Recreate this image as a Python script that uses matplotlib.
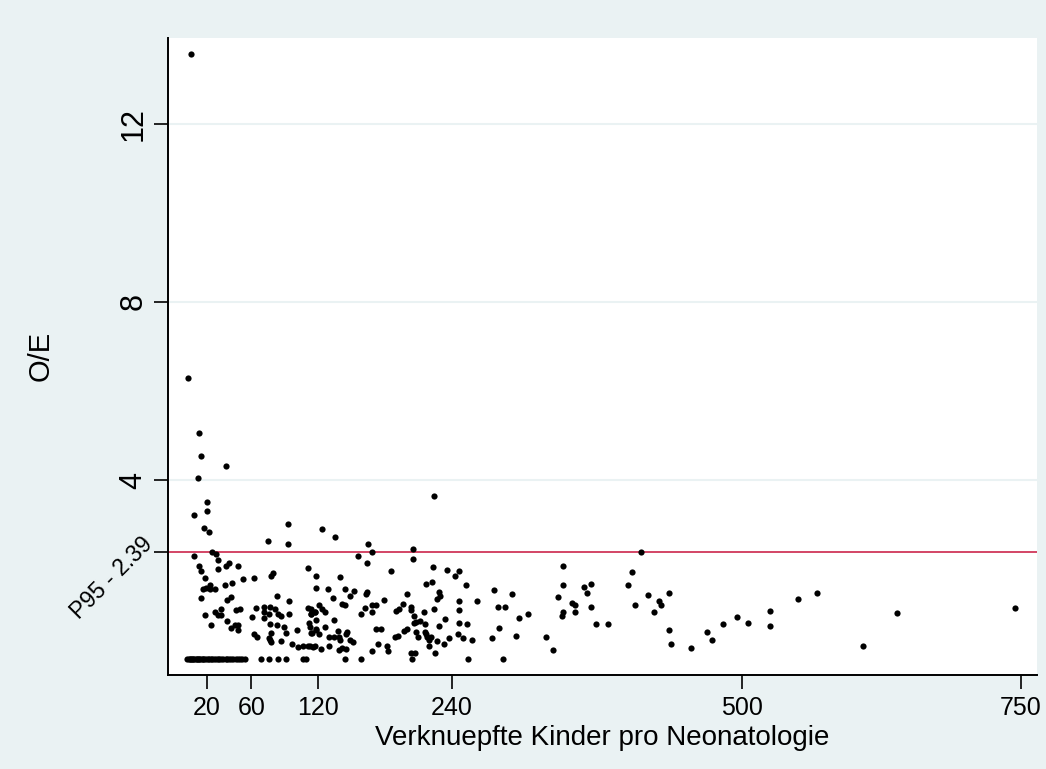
import matplotlib.pyplot as plt

# scatter data (x = linked children, y = O/E)
x_upper = [6, 3, 12.8, 14.9, 37, 11.9, 20, 20, 8.9, 17.9, 93, 123, 224]
y_upper = [13.56, 6.29, 5.05, 4.55, 4.33, 4.06, 3.52, 3.31, 3.21, 2.94, 3.01, 2.91, 3.64]

x_left = [22, 74.7, 93, 8.9, 25, 28, 30, 13, 15.2, 18.2, 30, 37, 40, 48, 53, 62,
          78, 79.7, 16.7, 19.6, 23.2, 22.7, 27.2, 36.7, 43, 14.9, 38.5, 41.5, 82.8, 94,
          27.2, 30.1, 33, 32.6, 18.2, 46.5, 49.6, 64, 71.4, 76.8, 81, 71, 75.9, 84, 86.4,
          93.5, 61, 71, 38, 23.9, 42, 45, 48, 48, 77, 83.3, 89, 101, 78, 91,
          62.4, 64.8, 76, 78, 76.8, 87, 96.8, 101.9, 106.4, 110.9, 115.3,
          110.9, 118, 118, 111, 113.8, 116.8, 111.7, 114.4, 117.8]
y_left = [2.83, 2.64, 2.56, 2.31, 2.39, 2.34, 2.21, 2.08, 1.97, 1.81, 2.02, 2.08, 2.14, 2.08, 1.79, 1.81,
          1.85, 1.92, 1.56, 1.59, 1.65, 1.55, 1.56, 1.65, 1.70, 1.36, 1.32, 1.37, 1.40, 1.30,
          1.05, 0.98, 0.98, 1.12, 0.98, 1.10, 1.12, 1.13, 1.16, 1.16, 1.11, 1.05, 1.00, 0.99, 0.96,
          0.99, 0.94, 0.90, 0.84, 0.76, 0.69, 0.76, 0.76, 0.63, 0.78, 0.75, 0.71, 0.65, 0.58, 0.58,
          0.54, 0.48, 0.45, 0.37, 0.42, 0.39, 0.33, 0.27, 0.29, 0.29, 0.27,
          2.04, 1.85, 1.58, 1.13, 1.00, 1.05, 0.79, 0.57, 0.64]

x_mid = [134.8, 165, 168, 156, 164, 205, 205, 185, 223, 235.8, 243, 246.5, 139.8, 129,
         144, 152, 148.8, 162.6, 164, 133, 200, 217, 222, 227, 229, 228.6, 179, 141, 144,
         168, 172, 162, 196, 192.7, 189.8, 203.5, 203.5, 224, 246.5, 246.5, 120.4, 114, 123,
         126.4, 117.4, 114, 158, 168, 206, 215, 117.7, 134, 206, 207.7, 211.3, 215.8, 233.7,
         246.5, 126, 117.7, 112.6, 228, 199.4, 197, 171.8, 176, 146, 144.7, 114, 121, 138,
         208, 209.8, 216, 216.7, 218, 189, 191.8, 219.6, 221, 226.3, 237.6, 245.6, 130, 134,
         139, 140, 148.5, 151, 112.6, 116.8, 122.5, 130, 139, 141.6, 144.7, 168, 174, 181.4,
         183, 219.6, 224.7, 233, 203, 207]
y_mid = [2.73, 2.56, 2.39, 2.31, 2.14, 2.46, 2.23, 1.96, 2.06, 1.99, 1.85, 1.97, 1.83, 1.56,
         1.55, 1.52, 1.41, 1.44, 1.49, 1.36, 1.45, 1.68, 1.72, 1.34, 1.40, 1.49, 1.31, 1.23, 1.20,
         1.20, 1.20, 1.14, 1.22, 1.11, 1.06, 1.16, 1.08, 1.12, 1.29, 1.09, 1.19, 1.11, 1.11,
         1.05, 1.05, 0.99, 1.00, 1.04, 0.96, 1.04, 0.87, 0.87, 0.79, 0.82, 0.84, 0.78, 0.89,
         0.79, 0.71, 0.66, 0.70, 0.72, 0.66, 0.62, 0.66, 0.66, 0.60, 0.55, 0.57, 0.55, 0.62,
         0.59, 0.48, 0.59, 0.54, 0.48, 0.49, 0.51, 0.41, 0.48, 0.39, 0.46, 0.55, 0.49, 0.48,
         0.49, 0.42, 0.42, 0.38, 0.28, 0.28, 0.22, 0.28, 0.20, 0.23, 0.22, 0.17, 0.32, 0.28,
         0.18, 0.29, 0.13, 0.32, 0.12, 0.13]

x_right = [252.8, 262.7, 253.7, 249.9, 258, 278, 293.8, 281, 288, 308, 300, 282, 276, 297,
           324, 331, 339.8, 339.8, 334.8, 339.8, 338.7, 347.6, 350, 350, 358, 360.8, 365, 365,
           369, 380, 409.8, 401.7, 397.8, 403.8, 415.8, 425.6, 427.7, 434.6, 420.9, 434.9,
           436.7, 454.6, 468.7, 472.9, 482.8, 495.6, 505.7, 525, 525, 550, 567, 608.6, 638.8,
           744.7]
y_right = [1.64, 1.29, 0.78, 0.46, 0.42, 1.53, 1.44, 1.16, 1.16, 1.00, 0.91, 0.68, 0.46, 0.51,
           0.48, 0.19, 2.08, 1.66, 1.39, 1.04, 0.96, 1.25, 1.21, 1.05, 1.60, 1.47, 1.68, 1.16,
           0.78, 0.78, 2.40, 1.95, 1.65, 1.21, 1.43, 1.30, 1.19, 1.47, 1.05, 0.63,
           0.33, 0.24, 0.59, 0.42, 0.77, 0.94, 0.79, 1.07, 0.74, 1.34, 1.46, 0.28, 1.03,
           1.14]

# units with O/E = 0
x_zero = [2, 4, 5, 6, 7, 8, 9, 10, 11, 12, 13, 14, 16, 17, 18, 19, 21, 22, 24, 25, 27, 28,
          30, 31, 33, 35, 37, 38, 40, 42, 44, 46, 48, 50, 52, 54,
          69, 76, 84, 91.4, 106.4, 108.8, 144, 158, 204, 254, 285.7]
y_zero = [0] * len(x_zero)

p95 = 2.39
p95_label = 'P95 - 2.39'
x_ticks = [20, 60, 120, 240, 500, 750]
y_ticks = [4, 8, 12]

bg = '#EAF2F3'
plt.rcParams['font.family'] = ['Liberation Sans', 'DejaVu Sans']
fig = plt.figure(figsize=(10.46, 7.69), dpi=100, facecolor=bg)
ax = fig.add_axes([0.1606, 0.1222, 0.8308, 0.8288])
ax.set_facecolor('white')

xs = x_upper + x_left + x_mid + x_right + x_zero
ys = y_upper + y_left + y_mid + y_right + y_zero
ax.scatter(xs, ys, s=20, color='black', linewidths=0, zorder=3)

for yv in y_ticks:
    ax.axhline(yv, color=bg, linewidth=1.5, zorder=1)
ax.axhline(p95, color='#C8143C', linewidth=1.1, zorder=2)

ax.set_xlim(-14.7, 764.7)
ax.set_ylim(-0.37, 13.93)

ax.set_xticks(x_ticks)
ax.set_xticklabels([str(v) for v in x_ticks], fontsize=18)
ax.set_yticks([p95] + y_ticks)
labels = ax.set_yticklabels([''] + [str(v) for v in y_ticks], fontsize=22)
for lab in labels[1:]:
    lab.set_rotation(90)
    lab.set_va('center')

# the P95 tick label is drawn at 45 degrees
ax.annotate(p95_label, xy=(0, p95), xycoords=('axes fraction', 'data'),
            xytext=(-8, 2), textcoords='offset points', fontsize=16.5,
            rotation=45, rotation_mode='anchor', ha='right', va='bottom',
            annotation_clip=False)

ax.tick_params(axis='both', length=10, width=1.2, color='black', pad=5)
ax.tick_params(axis='y', pad=4)

for side in ['top', 'right']:
    ax.spines[side].set_visible(False)
for side in ['left', 'bottom']:
    ax.spines[side].set_linewidth(1.4)
    ax.spines[side].set_color('black')

ax.set_xlabel('Verknuepfte Kinder pro Neonatologie', fontsize=20, labelpad=4)
ax.set_ylabel('O/E', fontsize=21)
ax.yaxis.set_label_coords(-0.130, 0.5)

fig.savefig('out.png', dpi=100, facecolor=bg)
